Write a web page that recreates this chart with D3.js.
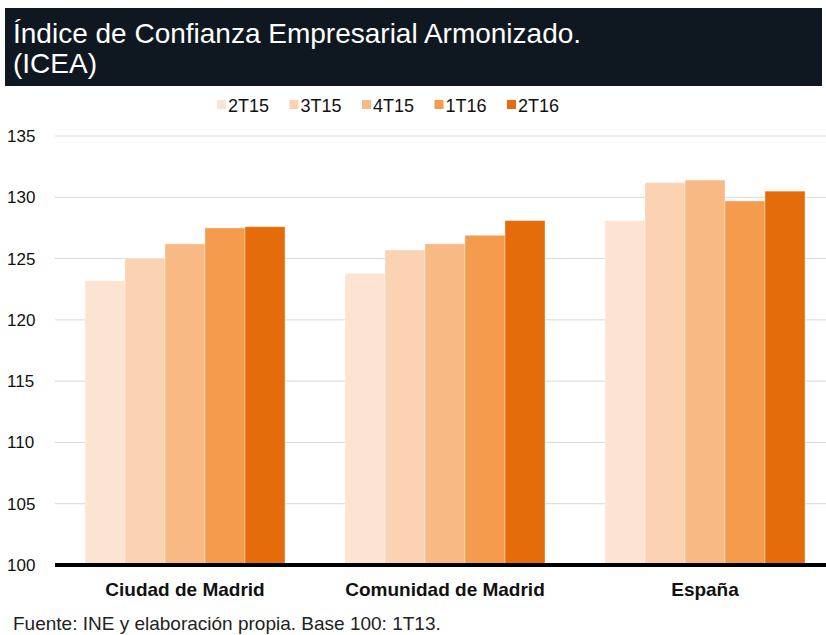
<!DOCTYPE html>
<html>
<head>
<meta charset="utf-8">
<script src="https://cdn.jsdelivr.net/npm/d3@7"></script>
<style>
  body { margin: 0; background: #fff; }
  svg { font-family: "Liberation Sans", Arial, sans-serif; }
</style>
</head>
<body>
<svg id="chart" width="826" height="635"></svg>
<script>
    // Data
    const categories = ['Ciudad de Madrid', 'Comunidad de Madrid', 'España'];
    const seriesNames = ['2T15', '3T15', '4T15', '1T16', '2T16'];
    const values2T15 = [123.2, 123.8, 128.1];
    const values3T15 = [125.0, 125.7, 131.2];
    const values4T15 = [126.2, 126.2, 131.4];
    const values1T16 = [127.5, 126.9, 129.7];
    const values2T16 = [127.6, 128.1, 130.5];
    const yTicks = [100, 105, 110, 115, 120, 125, 130, 135];
    const colors = ['#fde4d2', '#fbd3b2', '#f9b984', '#f59b4e', '#e46c0b'];

    const seriesValues = [values2T15, values3T15, values4T15, values1T16, values2T16];
    const rows = categories.map((c, i) => ({
        category: c,
        values: seriesNames.map((s, j) => ({ series: s, value: seriesValues[j][i] }))
    }));

    const svg = d3.select('#chart');

    // Title box
    svg.append('rect').attr('x', 5).attr('y', 8).attr('width', 817).attr('height', 78).attr('fill', '#0f1820');
    svg.append('text').attr('x', 13).attr('y', 43).attr('fill', '#fff').attr('font-size', 28)
        .text('Índice de Confianza Empresarial Armonizado.');
    svg.append('text').attr('x', 13).attr('y', 73).attr('fill', '#fff').attr('font-size', 28)
        .text('(ICEA)');

    // Scales
    const x0 = d3.scaleBand().domain(categories).range([55, 835]).paddingInner(0.2308).paddingOuter(0.1154);
    const x1 = d3.scaleBand().domain(seriesNames).range([0, x0.bandwidth()]);
    const y = d3.scaleLinear().domain([100, 135]).range([565, 136]);
    const color = d3.scaleOrdinal().domain(seriesNames).range(colors);

    // Grid lines
    svg.append('g').selectAll('line').data(yTicks.filter(t => t > 100)).enter().append('line')
        .attr('x1', 55).attr('x2', 826)
        .attr('y1', d => y(d)).attr('y2', d => y(d))
        .attr('stroke', '#d9d9d9').attr('stroke-width', 1);

    // Y tick labels
    svg.append('g').selectAll('text').data(yTicks).enter().append('text')
        .attr('x', 7).attr('y', d => y(d) + 6)
        .attr('font-size', 17).attr('fill', '#111')
        .text(d => d);

    // Bars
    const groups = svg.append('g').selectAll('g').data(rows).enter().append('g')
        .attr('transform', d => `translate(${x0(d.category)},0)`);
    groups.selectAll('rect').data(d => d.values).enter().append('rect')
        .attr('x', d => x1(d.series))
        .attr('y', d => y(d.value))
        .attr('width', x1.bandwidth())
        .attr('height', d => y(100) - y(d.value))
        .attr('fill', d => color(d.series))
        .attr('stroke', 'rgba(255,255,255,0.35)')
        .attr('stroke-width', 1);

    // Baseline
    svg.append('line').attr('x1', 55).attr('x2', 826).attr('y1', y(100)).attr('y2', y(100))
        .attr('stroke', '#000').attr('stroke-width', 4);

    // Category labels
    svg.append('g').selectAll('text').data(categories).enter().append('text')
        .attr('x', d => x0(d) + x0.bandwidth() / 2).attr('y', 596)
        .attr('text-anchor', 'middle').attr('font-size', 19).attr('font-weight', 'bold').attr('fill', '#111')
        .text(d => d);

    // Legend
    const legend = svg.append('g').selectAll('g').data(seriesNames).enter().append('g')
        .attr('transform', (d, i) => `translate(${217 + i * 72.5},105)`);
    legend.append('rect').attr('x', 0).attr('y', -5).attr('width', 9).attr('height', 9)
        .attr('fill', d => color(d));
    legend.append('text').attr('x', 11).attr('y', 6.5).attr('font-size', 18).attr('fill', '#111')
        .text(d => d);

    // Source
    svg.append('text').attr('x', 13).attr('y', 630).attr('font-size', 19).attr('fill', '#222')
        .text('Fuente: INE y elaboración propia. Base 100: 1T13.');
</script>
</body>
</html>
